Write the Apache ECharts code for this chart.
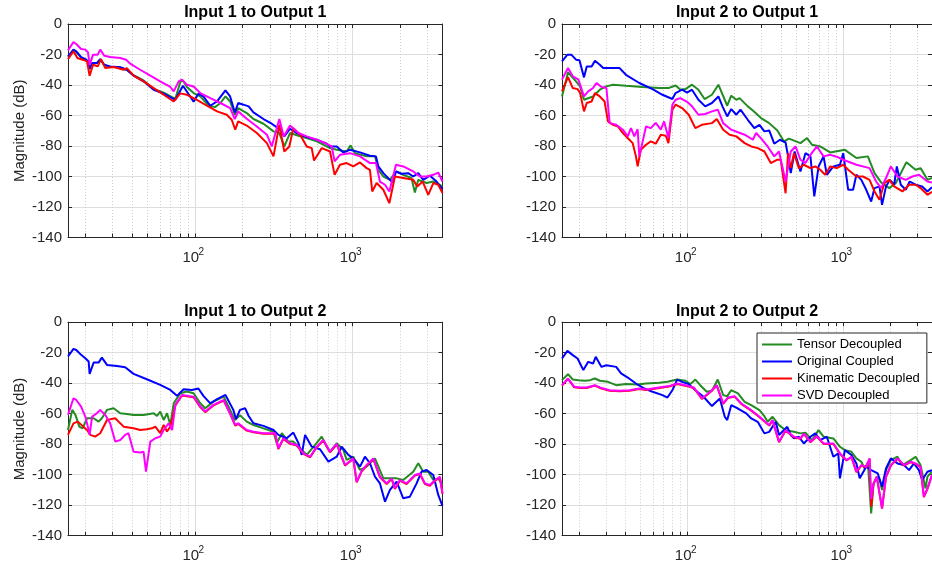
<!DOCTYPE html>
<html>
<head>
<meta charset="utf-8">
<script src="https://cdn.jsdelivr.net/npm/echarts@6/dist/echarts.min.js"></script>
<style>
  html, body { margin: 0; padding: 0; background: #fff; }
  #chart { width: 932px; height: 569px; }
</style>
</head>
<body>
<div id="chart"></div>
<script>
// Frequency axis range (Hz) and magnitude range (dB)
const freqMin = 15.6;
const freqMax = 3730;
const magMin = -140;
const magMax = 0;
const magStep = 20;

const seriesNames = ['Tensor Decoupled', 'Original Coupled', 'Kinematic Decoupled', 'SVD Decoupled'];
const panelTitles = ['Input 1 to Output 1', 'Input 2 to Output 1', 'Input 1 to Output 2', 'Input 2 to Output 2'];

// ---- Input 1 to Output 1 : [frequency Hz, magnitude dB] ----
const tensor11 = [[15.6,-21.5],[16.9,-17.2],[17.6,-18.2],[18.9,-22],[20.1,-23.3],[20.9,-25],[21.4,-29],[22.2,-25.8],[23.8,-25.8],[25,-23.3],[26.5,-27],[28.9,-28],[33.5,-28.6],[36.9,-30.2],[40.7,-33.6],[47.1,-37],[54.6,-42.5],[63.2,-45],[71.5,-48],[75,-49],[80.6,-38],[83.8,-37],[88.8,-41.3],[97.9,-45.3],[108,-47.5],[122,-53.6],[134,-54.5],[145,-51.8],[156,-47.5],[167,-50.8],[179,-59.5],[188,-55.1],[213,-58.4],[235,-62.3],[272,-65.4],[315,-70.4],[343,-71.5],[369,-80.3],[401,-71.5],[454,-73.3],[512,-74.8],[593,-77],[720,-81.4],[794,-82.5],[918,-83.6],[973,-79.6],[1037,-84.7],[1230,-86.8],[1390,-86.8],[1460,-95.6],[1570,-100],[1730,-102.2],[1890,-96.7],[2100,-98.9],[2370,-101],[2490,-110.5],[2617,-102.2],[2955,-104.3],[3260,-103.3],[3730,-106.5]];
const original11 = [[15.6,-21.2],[16.9,-16.8],[17.6,-17.9],[18.9,-21.7],[20.1,-23],[20.9,-24.5],[21.4,-29.5],[22.2,-25.6],[23.8,-25.6],[25,-23],[26.5,-26.7],[28.9,-27.8],[33.5,-28.4],[36.9,-30],[40.7,-33.9],[47.1,-37.6],[54.6,-43.1],[63.2,-45.7],[71.5,-48.6],[75,-49.7],[83.8,-40.5],[97.9,-50.9],[105,-45.7],[113,-47.5],[125,-53.6],[138,-50.8],[156,-43.5],[167,-47.5],[179,-58],[188,-51.8],[203,-52.9],[219,-54],[235,-58],[272,-62.3],[307,-65.4],[347,-69.3],[369,-73.7],[401,-68.7],[443,-71.5],[512,-74.2],[593,-75.9],[686,-78.5],[720,-80.3],[794,-80.3],[875,-84.2],[964,-82.5],[1116,-84.2],[1291,-86.4],[1410,-86.8],[1460,-93.4],[1570,-97.8],[1730,-102.2],[1800,-103.9],[1890,-96.7],[2050,-98.2],[2260,-97.8],[2431,-100],[2617,-97.8],[2814,-102.2],[3102,-99.5],[3420,-103.3],[3730,-108.3]];
const kinematic11 = [[15.6,-23],[16.9,-17.9],[17.9,-22.3],[19.3,-23.4],[20.6,-24.5],[21.4,-33.9],[22.5,-26.7],[24.1,-27.8],[25.3,-23],[26.9,-28.9],[30.4,-28.2],[35.2,-30],[36.9,-28.9],[40.7,-33.9],[47.1,-37.6],[54.6,-42],[63.2,-46.4],[73.2,-50.8],[80.6,-45.5],[88.8,-46.4],[102.8,-49.7],[119,-53.6],[138,-57.3],[159,-59.5],[171,-62.8],[180,-69.3],[188,-63.9],[213,-66.6],[247,-71.5],[286,-78.1],[315,-86.8],[343,-66.1],[369,-83.6],[397,-80.3],[421,-68.3],[465,-72.6],[512,-80.3],[551,-81.4],[570,-89.5],[638,-81.4],[720,-83.6],[770,-98.9],[833,-92.3],[918,-91.2],[1012,-93.4],[1116,-90.8],[1230,-94.5],[1291,-95.6],[1335,-109.8],[1423,-104.3],[1570,-108.7],[1714,-117.5],[1860,-100],[2100,-101],[2431,-102.2],[2580,-106.5],[2790,-103.3],[3030,-112],[3260,-104.3],[3505,-105.4],[3730,-110.9]];
const svd11 = [[15.6,-17.3],[16.9,-11.8],[17.6,-13.1],[18.9,-16.4],[20.1,-16.8],[20.9,-18.6],[21.4,-27],[22.5,-20.1],[24.1,-20.1],[25,-16.8],[26.5,-20.8],[28.9,-21.7],[33.5,-22.3],[36.5,-23.4],[38.7,-26],[44.8,-30],[52,-33.9],[60.1,-37.6],[69.7,-41.3],[73.2,-44.2],[78.7,-37.6],[82.6,-36.5],[88.8,-39.8],[97.9,-41],[108,-45.3],[125,-48.6],[145,-51.8],[167,-55.1],[179,-62.3],[188,-57.3],[213,-62.1],[247,-67.2],[286,-72.6],[307,-80.3],[343,-62.3],[366,-73.7],[401,-66.6],[454,-71.5],[512,-73.7],[593,-75.9],[670,-78.1],[738,-80.3],[770,-90.1],[833,-85.8],[964,-84.7],[1116,-86.8],[1291,-91.2],[1410,-91.2],[1494,-103.3],[1609,-105.4],[1714,-109.8],[1890,-92.3],[2100,-93.4],[2431,-96.7],[2681,-100],[2955,-100],[3260,-98.9],[3505,-97.4],[3730,-103.3]];

// ---- Input 2 to Output 1 ----
const tensor21 = [[15.6,-47.5],[17.05,-31.7],[19.2,-37.6],[20.4,-40.9],[21.6,-49.7],[24.7,-47.5],[27.3,-43.1],[30.1,-40.9],[33.2,-39.8],[40.2,-40.5],[51.4,-41.3],[65.7,-41.9],[76.1,-41.9],[83.8,-40.3],[90.1,-43.1],[97,-42.7],[106.9,-39.8],[117.5,-43.1],[128.7,-49.2],[143.5,-46.4],[158,-39.8],[180,-53.6],[191,-47],[206,-49.7],[216,-48.6],[244,-54],[263,-56.7],[297,-61.7],[335,-65],[378,-69.8],[417,-77],[449,-75.2],[532,-78.1],[587,-74.8],[631,-79.2],[713,-80.3],[826,-84.2],[1027,-82.5],[1218,-87.9],[1444,-86.8],[1593,-97.8],[1756,-103.9],[1983,-107.6],[2184,-104.3],[2554,-90.6],[2926,-95.6],[3148,-94.5],[3487,-102.2],[3730,-101]];
const original21 = [[15.6,-24.5],[16.9,-20.1],[17.9,-20.1],[19.2,-23.4],[20.2,-23.8],[21.6,-35],[22.5,-27.8],[24.2,-27.8],[25.4,-24.1],[27.3,-26.7],[28.7,-28.9],[32.4,-28.9],[36.6,-28.9],[40.2,-33.3],[49,-38.7],[59.6,-42.7],[69,-46.4],[79.9,-49.2],[83.8,-45.3],[92.3,-43.1],[99.3,-45],[106.9,-43.1],[117.5,-49.7],[130,-54],[143.5,-51.8],[158,-47.5],[167.8,-54],[180,-60.6],[191,-55.8],[206,-59.5],[219,-56.2],[244,-62.8],[269,-68.3],[290,-66.1],[312,-70.4],[335,-69.8],[361,-78.5],[393,-75.9],[427,-77.7],[443,-86.8],[461,-97.8],[488,-83.6],[532,-96.7],[573,-84.7],[617,-86.8],[653,-113.1],[696,-93.4],[749,-86.8],[786,-98.9],[866,-93.4],[955,-92.3],[1002,-84.7],[1079,-108.7],[1160,-108.7],[1218,-98.9],[1310,-102.2],[1409,-108.7],[1516,-116.4],[1593,-107.6],[1714,-106.5],[1781,-118.6],[1888,-106.5],[2000,-102.2],[2131,-105.4],[2216,-93.4],[2349,-105.4],[2528,-108.7],[2681,-103.3],[2926,-105.4],[3225,-106.5],[3487,-109.8],[3730,-107]];
const kinematic21 = [[15.6,-44.2],[17.05,-34.8],[18.3,-42],[19.65,-42.7],[20.4,-45.3],[21.6,-57.3],[22.5,-51.8],[24.2,-50.8],[25.4,-45.3],[27.3,-47.5],[29.3,-50.8],[30.8,-63.9],[33.2,-66.1],[35.7,-67.2],[38.4,-71.5],[42.3,-75.9],[44.4,-78.1],[46.6,-86.8],[47.8,-93.4],[50.1,-82.5],[54.1,-79.2],[58.1,-77],[62.5,-78.5],[67.4,-72.6],[72.5,-73.3],[75.4,-78.1],[79.9,-56.2],[83.8,-52.9],[92.3,-55.1],[101.8,-59.5],[112.3,-68.3],[123.7,-66.1],[143.5,-65],[154.2,-62.3],[169.5,-69.3],[186.7,-72.6],[206,-73.7],[233,-78.1],[256.8,-80.3],[282.8,-81.4],[312,-83.6],[343,-91.2],[378,-89],[397,-89],[427,-111],[443,-84.7],[461,-94.5],[483.5,-84.7],[519.5,-94.5],[559,-92.3],[617,-94.5],[662.6,-93.4],[713,-95.6],[767,-98.9],[826,-93.4],[910,-94.5],[1002,-92.3],[1079,-95.6],[1218,-100],[1342,-100],[1480,-102.2],[1593,-109.8],[1714,-115.3],[1843,-104.3],[1983,-102.2],[2131,-106.5],[2407,-109.8],[2656,-105.4],[2926,-105.4],[3148,-107.6],[3487,-112],[3730,-110]];
const svd21 = [[15.6,-36.5],[17.05,-28.9],[18.3,-34.3],[19.9,-36.5],[21.6,-47.5],[23,-44.2],[24.7,-42],[26,-38.7],[28,-41.3],[30.1,-42],[31.6,-65],[34.8,-66.1],[38.4,-69.3],[41.3,-73.7],[43.3,-68.3],[45.5,-73.7],[47.8,-69],[49,-86.8],[54.1,-67.2],[58.1,-68.3],[62.5,-64.8],[67.4,-69.3],[70.7,-63.9],[75.4,-74.8],[79.9,-53],[83.8,-49.7],[90.1,-48.6],[99.3,-51],[106.9,-54],[117.5,-59.5],[130,-59],[143.5,-57.3],[156.5,-56.2],[169.5,-65],[191,-69.3],[211,-71],[233,-72.6],[263,-75.9],[276,-71.5],[297,-75],[327.5,-80.3],[361,-86.8],[387.6,-83.6],[427,-103.3],[461,-83.6],[495,-80.3],[532,-89],[573,-91.2],[617,-85.8],[679,-80.3],[749,-86.8],[826,-85.8],[910,-87],[1002,-89],[1218,-92.3],[1480,-94.5],[1632,-103.3],[1756,-107.6],[1888,-101],[2029,-93.4],[2237,-100],[2528,-102.2],[2788,-100],[3073,-98.9],[3487,-103.3],[3730,-104]];

// ---- Input 1 to Output 2 ----
const tensor12 = [[15.6,-70.7],[16.6,-57.5],[17.4,-60.8],[18.4,-68.5],[19.3,-69.6],[20.6,-63],[22.7,-63],[24.4,-65.2],[25.6,-63],[27.6,-57.5],[30.4,-56.4],[33.5,-59.7],[36.9,-60.2],[40.7,-60.8],[47.1,-60.8],[54.6,-59.7],[57.3,-61.5],[60.1,-58.6],[63.2,-64.1],[66.4,-59.7],[69.7,-67.4],[73.2,-53.2],[80.6,-46.6],[88.8,-45.5],[97.9,-46.6],[108,-53.2],[116,-56.4],[131,-52.1],[152,-48.8],[167,-57.5],[179,-64.1],[193,-61],[213,-65.2],[235,-67.4],[272,-69.6],[315,-71.8],[330,-79.4],[356,-72.8],[391,-78.3],[421,-78.3],[465,-82.7],[512,-87],[579,-80.5],[638,-75],[686,-81.6],[720,-84.9],[794,-79.4],[875,-83.8],[918,-90.3],[1012,-88.2],[1116,-96.9],[1230,-94.7],[1389,-89.3],[1570,-102.4],[1730,-102.4],[1907,-102.4],[2100,-103.5],[2431,-98],[2617,-92.5],[2814,-98],[3030,-98],[3260,-103.5],[3505,-102.4],[3730,-106.8]];
const original12 = [[15.6,-22.5],[16.9,-17.5],[17.6,-18.2],[18.9,-21.4],[20.1,-23.6],[21.1,-25.8],[21.4,-33.9],[22.7,-26.5],[24.4,-26.5],[25.6,-23.2],[27.6,-28],[31.9,-28.7],[36,-29.5],[40.7,-33.9],[49.4,-37.4],[60.1,-41.1],[69.7,-44.4],[76.8,-48.3],[84.6,-44],[95.5,-44.4],[105,-43.5],[113,-48.3],[125,-53.2],[138,-50.5],[156,-47.7],[175,-57.5],[182,-63.5],[193,-57.5],[208,-56.4],[219,-61.5],[235,-66.3],[272,-68],[315,-70.7],[338,-73.9],[382,-76.1],[421,-72.4],[454,-79.4],[476,-87],[500,-73.9],[551,-81.6],[622,-83.3],[703,-91.4],[794,-88.2],[854,-81.6],[941,-87],[1012,-89.3],[1116,-94.7],[1200,-88.2],[1291,-92.5],[1389,-101.3],[1494,-105.7],[1609,-117.7],[1730,-110],[1907,-104.6],[2100,-115.5],[2315,-114.4],[2554,-105.7],[2747,-98],[2955,-96.9],[3260,-100.2],[3505,-113.3],[3730,-120.5]];
const kinematic12 = [[15.6,-73.9],[16.9,-66.3],[18,-65.2],[19.3,-68],[20.6,-70.7],[21.6,-73.9],[23.2,-75],[25,-72.8],[27.6,-64.1],[31.1,-63],[35.2,-68.5],[40.7,-69.6],[44.8,-70.7],[49.4,-70.2],[53.3,-69.6],[55.9,-68.5],[60.1,-72.8],[63.2,-67.4],[66.4,-71.7],[69.7,-68.5],[75,-54.6],[82.6,-48.1],[91,-48.8],[97.9,-49.2],[108,-55.7],[116,-59],[131,-54.6],[152,-51.4],[167,-60.1],[180,-67.8],[188,-66.7],[213,-71.1],[235,-72.2],[272,-73.2],[323,-73.2],[338,-83.1],[364,-76.5],[401,-79.8],[443,-80.9],[488,-86.4],[538,-88.6],[593,-82],[653,-77.6],[720,-85.3],[794,-80.2],[897,-94],[1012,-89.7],[1063,-105],[1143,-97.9],[1230,-94],[1355,-89.7],[1494,-101.7],[1648,-106.1],[1772,-102.8],[1860,-109.3],[2000,-103.9],[2205,-106.1],[2492,-100.6],[2681,-99.5],[2884,-106.1],[3102,-107.2],[3260,-105],[3590,-101.7],[3730,-112.6]];
const svd12 = [[15.6,-60.8],[16.9,-49.9],[17.6,-51],[18.9,-55.3],[20.1,-61.9],[21.1,-70.7],[21.4,-73.9],[22.2,-61.9],[23.8,-59.7],[25,-57.5],[26.9,-60.8],[28.9,-66.3],[31.1,-78.3],[33.5,-77.2],[36,-73.9],[37.8,-72.8],[40.7,-84.9],[44.8,-85.5],[47.1,-84.9],[48.8,-98],[52,-78.3],[55.9,-76.1],[60.1,-75],[63.2,-70.7],[67.9,-66.3],[71.5,-70.7],[75,-54.2],[82.6,-47.7],[91,-48.4],[97.9,-48.8],[108,-55.3],[116,-58.6],[131,-54.2],[152,-51],[167,-59.7],[180,-67.4],[188,-66.3],[213,-70.7],[235,-71.8],[272,-72.8],[323,-72.8],[338,-82.7],[364,-76.1],[401,-79.4],[443,-80.5],[488,-86],[538,-88.2],[593,-81.6],[653,-77.2],[720,-84.9],[794,-79.8],[897,-93.6],[1012,-89.3],[1063,-104.6],[1143,-97.5],[1230,-93.6],[1355,-89.3],[1494,-101.3],[1648,-105.7],[1772,-102.4],[1860,-108.9],[2000,-103.5],[2205,-105.7],[2492,-100.2],[2681,-99.1],[2884,-105.7],[3102,-106.8],[3260,-104.6],[3590,-101.3],[3730,-112.2]];

// ---- Input 2 to Output 2 ----
const tensor22 = [[15.6,-38],[17.05,-34.1],[18.3,-37.6],[19.9,-38],[21.9,-38.4],[23.6,-38],[25.4,-36.9],[27.3,-38.4],[30.8,-39.1],[34.8,-41.3],[40.2,-40.6],[47.8,-40.8],[54.1,-40.2],[65.7,-39.7],[74.3,-39.1],[85.8,-37.6],[97,-38.4],[104.3,-40.6],[112.3,-37.6],[120.7,-41.3],[132.9,-45.6],[143.5,-45],[156.5,-37.6],[169.5,-47.8],[180,-48.5],[191,-44.6],[211,-46.7],[233,-52.2],[256.8,-54.4],[290,-57.7],[312,-61.6],[327.5,-65.3],[352,-62],[387.6,-67.5],[427,-70.8],[483.5,-71.9],[532,-72.9],[573,-72.5],[631,-77.3],[696,-70.8],[749,-75.1],[866,-76.2],[955,-81.7],[1027,-83.9],[1132,-85],[1218,-89.3],[1310,-91.5],[1375,-96],[1444,-92],[1516,-125.4],[1570,-105.7],[1648,-101.3],[1714,-103],[1781,-110],[1888,-97],[2029,-90.4],[2237,-88.2],[2407,-93.7],[2720,-90.4],[2926,-88.2],[3148,-93.7],[3390,-109],[3487,-101.3],[3730,-98]];
const original22 = [[15.6,-23.8],[16.9,-18.8],[18.3,-21.6],[19.65,-23.8],[21.4,-31.4],[23,-26],[24.7,-27.1],[25.7,-22.7],[28,-29.3],[30.1,-28.2],[34.8,-29.3],[37.4,-33.6],[41.3,-36.3],[46.6,-40.2],[52.8,-43.5],[59.6,-45.6],[69,-47.8],[74.3,-49.4],[79.9,-44.6],[85.8,-37.6],[92.3,-39.1],[101.8,-40.6],[112.3,-44.6],[126.8,-48.9],[143.5,-55],[161.3,-50],[173.6,-62],[180,-64.2],[191,-54.4],[211,-56.6],[238.5,-59.8],[256.8,-63.1],[282.8,-65.3],[312,-72.9],[335,-71.9],[369,-65.3],[387.6,-74],[437.8,-68.6],[461,-74],[483.5,-76.2],[519.5,-75.1],[559,-79.5],[617,-75.1],[662.6,-72.9],[713,-77.3],[786,-75.1],[866,-88.2],[931.5,-86],[955,-102.4],[1027,-83.9],[1132,-87.1],[1218,-92.6],[1279,-102.4],[1409,-94.8],[1516,-97],[1672,-99.2],[1781,-107.9],[1888,-95.9],[2029,-89.3],[2237,-92.6],[2467,-93.7],[2656,-97],[2855,-92.6],[3073,-97],[3225,-103.5],[3487,-98.1],[3730,-97]];
const kinematic22 = [[15.6,-41.6],[17.05,-37.2],[18.7,-42.7],[20.4,-43.1],[22.5,-43.1],[25.4,-41.6],[27.3,-43.1],[31.6,-44.9],[36.6,-45.3],[42.3,-44.9],[49,-43.8],[54.1,-44.5],[65.7,-43.1],[76.1,-42.2],[85.8,-40.5],[101.8,-42.2],[109.6,-43.1],[123.7,-50.3],[140,-45.9],[154.2,-41.6],[169.5,-53.6],[182,-49.7],[200.7,-48.8],[221.5,-53.6],[256.8,-58],[282.8,-61.3],[335,-67.8],[352,-64.5],[387.6,-78.7],[427,-71.1],[483.5,-75.4],[532,-76.5],[559,-73.3],[617,-78.7],[679,-75],[749,-79.8],[866,-79.8],[955,-86.3],[1052,-90.7],[1132,-88.5],[1218,-98.3],[1310,-94],[1409,-95.1],[1480,-89.6],[1516,-121],[1570,-106],[1648,-101.6],[1781,-122.3],[1888,-101.6],[2029,-94],[2237,-89.6],[2467,-94],[2720,-91.8],[2926,-92.9],[3148,-95.1],[3308,-114.7],[3487,-109.3],[3730,-100.3]];
const svd22 = [[15.6,-41.3],[17.05,-36.9],[18.7,-42.4],[20.4,-42.8],[22.5,-42.8],[25.4,-41.3],[27.3,-42.8],[31.6,-44.6],[36.6,-45],[42.3,-44.6],[49,-43.5],[54.1,-44.2],[65.7,-42.8],[76.1,-41.9],[85.8,-40.2],[101.8,-41.9],[109.6,-42.8],[123.7,-50],[140,-45.6],[154.2,-41.3],[169.5,-53.3],[182,-49.4],[200.7,-48.5],[221.5,-53.3],[256.8,-57.7],[282.8,-61],[335,-67.5],[352,-64.2],[387.6,-78.4],[427,-70.8],[483.5,-75.1],[532,-76.2],[559,-73],[617,-78.4],[679,-74.7],[749,-79.5],[866,-79.5],[955,-86],[1052,-90.4],[1132,-88.2],[1218,-98],[1310,-93.7],[1409,-94.8],[1480,-89.3],[1516,-116],[1570,-105.7],[1648,-101.3],[1781,-122],[1888,-101.3],[2029,-93.7],[2237,-89.3],[2467,-93.7],[2720,-91.5],[2926,-92.6],[3148,-94.8],[3308,-114.4],[3487,-109],[3730,-100]];

const panelSeries = [
  [tensor11, original11, kinematic11, svd11],
  [tensor21, original21, kinematic21, svd21],
  [tensor12, original12, kinematic12, svd12],
  [tensor22, original22, kinematic22, svd22]
];

// Styling
const FONT = '"Liberation Sans", Arial, Helvetica, sans-serif';
const AXIS_COLOR = '#262626';
const GRID_COLOR = '#dedede';
const MINOR_GRID_COLOR = '#cfcfcf';
const LINE_COLORS = ['#228B22', '#0000FF', '#FF0000', '#FF00FF'];

// Plot boxes (px) for the 2x2 layout
const boxW = 374.5, boxH = 213.5;
const boxes = [
  { left: 68, top: 24 },
  { left: 562, top: 24 },
  { left: 68, top: 322.2 },
  { left: 562, top: 322.2 }
];

// decade exponent of a tick value, or null when it is not a power of ten
function decadeExp(v) {
  const e = Math.log10(v);
  const r = Math.round(e);
  return Math.abs(e - r) < 1e-6 ? r : null;
}

const grids = [], xAxes = [], yAxes = [], series = [];
boxes.forEach((b, i) => {
  grids.push({ left: b.left, top: b.top, width: boxW, height: boxH, containLabel: false });
  const tickStyle = { color: AXIS_COLOR, width: 1 };
  // bottom frequency axis: base "10" of the decade labels
  xAxes.push({
    type: 'log', logBase: 10, gridIndex: i, position: 'bottom',
    min: freqMin, max: freqMax,
    axisLine: { show: true, onZero: false, lineStyle: tickStyle },
    axisTick: { show: true, inside: true, length: 4, lineStyle: tickStyle },
    minorTick: { show: true, splitNumber: 9, length: 4, lineStyle: tickStyle },
    splitLine: { show: true, lineStyle: { color: GRID_COLOR, width: 1 } },
    minorSplitLine: { show: true, lineStyle: { color: MINOR_GRID_COLOR, width: 1, type: [1, 2] } },
    axisLabel: {
      show: true, margin: 13, showMinLabel: false, showMaxLabel: false,
      formatter: v => decadeExp(v) === null ? '' : '{b|10}',
      rich: { b: { fontSize: 15, lineHeight: 15, fontFamily: FONT, color: AXIS_COLOR, padding: [0, 8.6, 0, 0] } }
    }
  });
  // exponent (superscript) of the decade labels
  xAxes.push({
    type: 'log', logBase: 10, gridIndex: i, position: 'bottom',
    min: freqMin, max: freqMax,
    axisLine: { show: false }, axisTick: { show: false }, minorTick: { show: false },
    splitLine: { show: false },
    axisLabel: {
      show: true, margin: 9.5, showMinLabel: false, showMaxLabel: false,
      formatter: v => { const e = decadeExp(v); return e === null ? '' : '{s|' + e + '}'; },
      rich: { s: { fontSize: 10, lineHeight: 10, fontFamily: FONT, color: AXIS_COLOR, padding: [0, 0, 0, 12.4] } }
    }
  });
  // top frame axis carrying the panel title
  xAxes.push({
    type: 'log', logBase: 10, gridIndex: i, position: 'top',
    min: freqMin, max: freqMax,
    name: panelTitles[i], nameLocation: 'middle', nameGap: 3,
    nameTextStyle: { fontSize: 16, fontWeight: 'bold', color: '#000', fontFamily: FONT },
    axisLine: { show: true, onZero: false, lineStyle: tickStyle },
    axisTick: { show: true, inside: true, length: 4, lineStyle: tickStyle },
    minorTick: { show: true, splitNumber: 9, length: 4, lineStyle: tickStyle },
    splitLine: { show: false },
    axisLabel: { show: false }
  });
  const leftCol = (i % 2 === 0);
  yAxes.push({
    type: 'value', gridIndex: i, position: 'left',
    min: magMin, max: magMax, interval: magStep,
    name: leftCol ? 'Magnitude (dB)' : '', nameLocation: 'middle', nameGap: 41,
    nameTextStyle: { fontSize: 15, color: AXIS_COLOR, fontFamily: FONT },
    axisLine: { show: true, onZero: false, lineStyle: tickStyle },
    axisTick: { show: true, inside: true, length: 4, lineStyle: tickStyle },
    splitLine: { show: true, lineStyle: { color: GRID_COLOR, width: 1 } },
    axisLabel: { show: true, margin: 6, fontSize: 15, color: AXIS_COLOR, fontFamily: FONT }
  });
  yAxes.push({
    type: 'value', gridIndex: i, position: 'right',
    min: magMin, max: magMax, interval: magStep,
    axisLine: { show: true, onZero: false, lineStyle: tickStyle },
    axisTick: { show: true, inside: true, length: 4, lineStyle: tickStyle },
    splitLine: { show: false },
    axisLabel: { show: false }
  });
  panelSeries[i].forEach((data, k) => {
    series.push({
      type: 'line', name: seriesNames[k],
      xAxisIndex: 3 * i, yAxisIndex: 2 * i,
      data: data, symbol: 'none', showSymbol: false, smooth: false,
      clip: true, silent: true, z: 2 + k,
      lineStyle: { width: 2, color: LINE_COLORS[k] },
      itemStyle: { color: LINE_COLORS[k] }
    });
  });
});

const chart = echarts.init(document.getElementById('chart'), null, { renderer: 'canvas' });
chart.setOption({
  animation: false,
  backgroundColor: '#ffffff',
  textStyle: { fontFamily: FONT },
  grid: grids,
  xAxis: xAxes,
  yAxis: yAxes,
  legend: {
    data: seriesNames,
    orient: 'vertical',
    left: 757, top: 333,
    itemWidth: 30, itemHeight: 14, itemGap: 4,
    padding: [5, 7, 1, 4],
    backgroundColor: '#ffffff',
    borderColor: AXIS_COLOR, borderWidth: 1, borderRadius: 0,
    itemStyle: { opacity: 0 },
    lineStyle: { width: 2 },
    textStyle: { fontSize: 13, color: '#000', fontFamily: FONT },
    selectedMode: false,
    z: 10
  },
  series: series
});
</script>
</body>
</html>
